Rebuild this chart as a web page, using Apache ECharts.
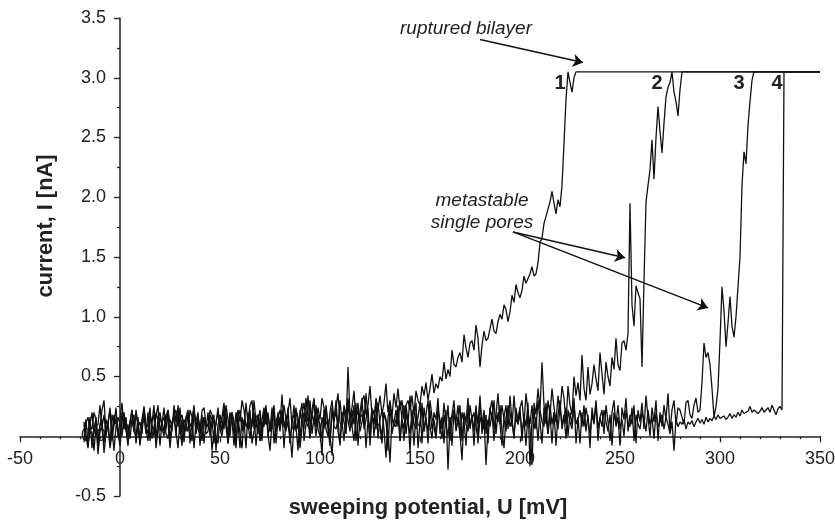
<!DOCTYPE html>
<html>
<head>
<meta charset="utf-8">
<script src="https://cdn.jsdelivr.net/npm/echarts@6/dist/echarts.min.js"></script>
<style>
html,body{margin:0;padding:0;background:#fff;}
#chart{width:835px;height:521px;}
</style>
</head>
<body>
<div id="chart"></div>
<script>
// ---- data (sweeping potential in mV, current in nA) ----
// every trace is sampled each 1 mV starting at -18 mV
const sweepStartMV = -18;
const sweepStepMV = 1;
const sweepEndMV = 350;
const ruptureCurrent = 3.05;

const xTickMin = -50, xTickMax = 350, xTickStep = 50;
const yTickMin = -0.5, yTickMax = 3.5, yTickStep = 0.5;

const trace1 = [
 0.05,0.14,-0.08,0.10,0.20,0.02,0.16,-0.12,0.08,0.22,0.30,0.04,0.12,-0.06,0.18,0.09,0.24,0.00,0.14,0.28,
 0.06,0.16,-0.04,0.12,0.22,0.05,0.18,0.10,-0.06,0.14,0.25,0.08,0.02,0.18,0.11,0.26,-0.02,0.15,0.20,0.07,
 0.00,0.17,0.22,0.10,0.04,0.26,0.12,0.19,0.02,0.14,-0.05,0.16,0.22,0.08,0.12,0.24,0.03,0.18,0.05,0.21,
 0.24,0.10,0.08,0.18,0.14,-0.06,0.12,0.20,0.06,0.16,0.28,0.09,0.04,0.20,0.14,-0.08,0.10,0.22,0.12,0.30,
 0.22,0.08,0.12,0.26,0.30,0.06,0.16,0.18,-0.04,0.14,0.24,0.10,0.20,0.04,0.18,0.26,0.02,0.16,0.22,0.10,
 0.26,0.14,0.20,0.32,0.08,0.05,0.22,0.16,-0.02,0.18,0.28,0.12,0.34,0.10,0.16,0.30,0.08,0.24,0.14,0.32,
 0.24,0.06,0.00,0.20,0.30,0.14,0.24,0.36,0.12,0.06,0.26,0.18,0.32,0.16,0.24,0.38,0.14,0.28,0.10,0.30,
 0.34,0.18,0.26,0.42,0.16,0.12,0.32,0.22,0.34,0.18,0.28,0.44,0.20,0.30,0.16,0.36,0.24,0.40,0.22,0.30,
 0.14,0.26,0.30,0.22,0.34,0.18,0.38,0.30,0.26,0.42,0.34,0.45,0.30,0.40,0.52,0.36,0.44,0.40,0.50,0.46,
 0.62,0.48,0.56,0.50,0.72,0.60,0.58,0.66,0.70,0.62,0.85,0.74,0.66,0.78,0.80,0.72,0.93,0.82,0.58,0.76,
 0.88,0.80,0.82,0.90,0.98,0.88,0.86,0.96,1.02,0.98,1.10,1.06,0.96,1.04,1.18,1.12,1.27,1.20,1.16,1.22,
 1.34,1.28,1.28,1.36,1.42,1.34,1.36,1.45,1.62,1.66,1.78,1.84,1.90,1.96,2.05,1.95,1.86,1.98,1.92,2.10,
 2.45,2.82,3.05,2.96,2.88,3.00,3.05
];

const trace2 = [
 0.10,-0.04,0.02,0.16,-0.10,0.06,0.14,-0.15,0.04,0.08,0.18,0.00,0.12,0.22,-0.04,0.10,0.12,0.02,-0.08,0.16,
 0.20,0.04,0.10,-0.02,0.14,0.18,-0.06,0.08,0.12,0.02,0.24,0.06,-0.04,0.16,0.10,0.00,0.20,0.14,-0.08,0.12,
 0.16,0.06,0.22,-0.02,0.10,0.18,0.04,-0.10,0.14,0.18,0.08,0.04,0.20,-0.06,0.12,0.26,0.02,0.14,0.08,-0.04,
 0.16,0.06,0.20,0.00,0.12,0.18,-0.12,0.10,0.14,0.04,0.24,0.08,-0.06,0.18,0.12,0.02,0.20,0.10,-0.10,0.16,
 0.06,0.28,0.10,-0.02,0.14,0.20,-0.08,0.12,0.22,0.04,0.16,0.26,0.00,0.12,0.06,0.24,-0.06,0.14,0.04,0.20,
 -0.10,0.16,0.08,0.02,-0.18,0.12,0.24,0.06,0.18,0.28,-0.04,0.10,0.16,0.02,0.22,0.32,0.08,0.14,0.10,-0.02,
 0.18,0.24,0.06,-0.08,0.20,0.12,0.30,0.04,-0.06,0.16,0.22,0.10,0.58,0.18,0.08,0.26,-0.04,0.12,0.20,0.32,
 0.06,0.14,0.24,-0.08,0.18,0.10,0.30,-0.02,0.14,0.22,0.06,-0.18,0.16,0.26,0.02,0.12,0.22,0.08,0.30,0.14,
 -0.04,0.20,0.10,0.34,0.06,0.16,0.28,-0.10,0.12,0.24,0.04,0.18,0.30,0.08,-0.02,0.20,0.14,0.32,0.02,0.16,
 -0.06,0.22,-0.28,0.10,0.18,0.30,0.04,0.14,0.26,-0.04,0.20,0.12,0.32,0.06,0.18,-0.08,0.24,0.10,0.34,0.02,
 0.16,-0.24,0.08,0.22,0.30,0.06,0.18,0.36,0.10,0.26,0.14,0.04,0.26,0.20,0.08,0.34,0.12,0.15,0.24,0.30,
 0.10,0.36,0.20,0.06,-0.24,0.28,0.18,0.40,0.22,0.62,0.26,0.10,0.30,0.18,0.40,0.24,0.12,0.34,0.20,0.42,
 0.32,0.10,0.42,0.26,0.18,0.50,0.34,0.45,0.30,0.68,0.40,0.30,0.58,0.35,0.44,0.60,0.48,0.38,0.70,0.52,
 0.35,0.62,0.50,0.42,0.66,0.56,0.82,0.60,0.55,0.78,0.80,0.72,0.86,1.95,1.10,0.92,1.26,1.20,1.15,0.58,
 1.30,1.96,2.10,2.23,2.48,2.15,2.50,2.76,2.55,2.37,2.62,2.84,2.92,2.96,3.05,2.88,2.80,2.68,2.90,3.05,
 3.05
];

const trace3 = [
 -0.05,0.12,0.16,0.02,0.04,-0.12,0.08,0.10,0.26,0.06,-0.06,0.14,0.08,-0.10,0.02,0.18,0.12,0.06,-0.02,0.20,
 0.06,0.14,-0.06,0.10,0.22,0.04,0.00,0.16,-0.08,0.12,0.20,0.06,0.10,0.24,-0.02,0.08,0.16,0.26,0.04,0.12,
 0.04,0.18,0.12,-0.10,0.08,0.18,0.22,0.08,0.24,0.00,0.02,0.16,0.14,0.06,-0.04,0.20,0.12,0.20,-0.08,0.10,
 0.16,0.02,0.04,0.22,0.18,0.10,0.00,-0.06,0.18,0.12,0.06,0.26,0.14,0.00,0.20,0.08,-0.10,0.16,0.22,0.04,
 0.14,-0.10,0.20,0.06,0.08,0.30,0.12,0.02,0.16,-0.04,0.22,0.10,0.18,0.04,0.24,-0.06,0.12,0.18,0.08,0.22,
 0.10,0.04,0.24,-0.06,0.14,0.18,0.08,-0.12,0.22,0.12,0.06,0.32,0.16,-0.02,0.20,0.10,0.26,0.06,0.00,0.16,
 0.06,0.26,0.10,0.00,-0.16,0.14,0.20,0.08,0.30,0.12,-0.04,0.18,0.14,0.04,0.22,0.10,0.28,-0.08,0.16,0.18,
 0.10,0.36,0.14,-0.02,0.16,0.22,0.06,0.28,0.10,0.00,0.20,0.14,-0.12,0.24,0.16,0.08,0.14,0.26,-0.04,0.18,
 0.26,0.02,0.18,-0.14,0.22,0.10,0.06,0.16,0.28,-0.06,0.24,0.12,0.04,0.30,0.16,0.08,-0.02,0.20,0.14,0.06,
 0.28,0.10,0.00,0.16,-0.08,0.22,0.12,0.26,0.02,-0.20,0.18,0.10,0.04,0.26,0.14,0.20,0.08,-0.02,0.28,0.12,
 0.06,0.18,-0.06,0.24,0.14,0.30,0.02,0.20,0.10,-0.08,0.16,0.26,0.06,0.34,0.12,0.00,0.22,0.10,0.24,-0.04,
 0.18,0.08,0.28,-0.25,0.14,0.22,0.06,0.30,0.12,-0.06,0.24,0.16,0.02,0.26,0.10,0.20,-0.08,0.18,0.30,0.06,
 0.16,0.24,0.00,0.20,0.10,0.32,-0.06,0.14,0.22,0.08,0.26,0.04,0.18,-0.10,0.24,0.12,0.30,0.06,0.16,0.22,
 0.02,0.26,0.12,-0.04,0.20,0.30,0.08,0.16,-0.08,0.24,0.14,0.32,0.04,0.18,0.10,0.26,-0.06,0.22,0.12,0.28,
 0.06,0.34,0.16,0.00,0.24,0.12,0.30,-0.04,0.20,0.08,0.26,0.14,0.36,0.04,0.22,0.30,0.10,0.24,0.22,0.16,
 0.10,0.28,0.30,0.18,0.15,0.26,0.32,0.20,0.22,0.45,0.78,0.66,0.70,0.60,0.40,0.16,0.25,0.40,0.80,1.25,
 1.05,0.75,0.95,1.17,0.92,0.83,1.00,1.00,1.50,2.10,2.38,2.28,2.60,2.80,2.98,3.05,3.05
];

const trace4 = [
 0.12,0.00,-0.10,0.08,0.06,0.20,0.14,-0.04,0.10,0.14,-0.14,0.02,0.10,0.24,0.06,-0.12,0.08,0.16,0.10,0.00,
 0.18,0.06,-0.08,0.12,0.14,0.04,0.22,0.10,-0.06,0.08,0.16,0.02,0.20,-0.04,0.12,0.18,-0.10,0.06,0.16,0.10,
 0.24,0.02,-0.02,0.14,0.10,0.18,0.00,0.26,0.08,-0.08,0.14,0.10,0.04,0.22,0.16,-0.10,0.12,0.06,0.02,0.18,
 -0.06,0.12,0.08,0.16,-0.12,0.04,0.10,0.24,0.06,0.00,0.14,0.20,-0.06,0.08,0.20,0.12,-0.04,0.16,0.02,-0.10,
 0.14,0.10,0.06,0.22,-0.06,0.04,0.10,0.18,-0.04,0.12,0.08,0.24,0.02,-0.12,0.12,0.16,0.04,0.20,0.10,0.35,
 0.08,0.14,0.18,-0.06,0.10,0.26,0.04,0.14,-0.10,0.08,0.20,0.12,0.08,0.30,0.02,0.16,0.00,0.18,0.06,-0.16,
 0.22,0.10,0.14,-0.02,0.24,0.08,0.06,0.14,-0.08,0.20,0.12,0.02,0.28,0.10,0.08,-0.04,0.16,0.22,0.04,0.12,
 0.22,-0.10,0.14,0.06,0.24,0.00,0.18,0.10,0.08,-0.06,0.20,0.12,0.04,-0.22,0.16,0.10,0.08,0.22,-0.04,0.14,
 0.06,0.26,0.12,0.02,0.18,-0.08,0.20,0.10,0.08,0.28,0.04,0.16,-0.06,0.22,0.06,0.14,0.02,0.24,0.10,-0.02,
 0.18,0.08,0.26,-0.04,0.14,0.22,0.06,0.16,0.00,0.20,0.12,-0.08,0.24,0.08,0.18,0.04,0.26,-0.06,0.16,0.10,
 0.22,0.02,0.14,0.08,0.20,-0.04,0.18,0.12,0.26,0.04,-0.10,0.16,0.22,0.08,0.14,-0.02,0.24,0.10,0.18,0.04,
 0.14,-0.08,0.20,0.10,0.26,0.06,0.16,-0.04,0.22,0.12,0.08,0.28,0.02,0.18,-0.06,0.20,0.14,0.06,0.24,0.10,
 0.18,-0.02,0.22,0.12,0.06,0.26,0.10,0.16,-0.06,0.20,0.08,0.24,0.14,0.02,0.18,0.10,0.28,-0.04,0.16,0.08,
 0.22,0.12,0.04,0.18,-0.08,0.20,0.10,0.26,0.06,0.14,0.00,0.22,0.12,0.08,0.24,-0.04,0.18,0.10,0.06,0.20,
 0.14,0.04,0.22,0.10,0.16,-0.02,0.20,0.08,0.12,0.18,0.06,0.16,0.10,0.02,0.12,-0.12,0.14,0.08,0.12,0.10,
 0.14,0.06,0.12,0.10,0.13,0.08,0.12,0.15,0.11,0.14,0.10,0.16,0.12,0.15,0.13,0.17,0.14,0.18,0.15,0.16,
 0.17,0.14,0.16,0.19,0.15,0.18,0.16,0.20,0.17,0.22,0.19,0.18,0.21,0.25,0.20,0.22,0.23,0.19,0.21,0.24,
 0.20,0.22,0.24,0.20,0.26,0.22,0.18,0.23,0.25,0.22,3.05
];

const traceNames = ['1', '2', '3', '4'];
const traces = [trace1, trace2, trace3, trace4];

// annotation anchors in data units [mV, nA]
const rupturedArrow = [[180, 3.32], [231.5, 3.127]];
const poreArrows = [
  [[196.5, 1.71], [252.5, 1.493]],
  [[196.5, 1.71], [294, 1.074]]
];
const annotationTexts = [
  {text: 'ruptured bilayer', at: [173, 3.41]},
  {text: 'metastable', at: [181, 1.97]},
  {text: 'single pores', at: [181, 1.786]}
];
const traceLabelPos = [[220, 2.95], [268.5, 2.95], [309.5, 2.95], [328.5, 2.95]];

// ---- chart ----
const FONT = "'Liberation Sans', Arial, Helvetica, sans-serif";
const chart = echarts.init(document.getElementById('chart'), null, {renderer: 'canvas'});
const GRID = {left: 20, right: 15, top: 18, bottom: 25};

function toSeriesData(vals) {
  const d = vals.map((v, i) => [sweepStartMV + i * sweepStepMV, v]);
  d.push([sweepEndMV, ruptureCurrent]);
  return d;
}

const series = traces.map((t, k) => ({
  name: traceNames[k],
  type: 'line',
  data: toSeriesData(t),
  showSymbol: false,
  symbol: 'none',
  lineStyle: {color: '#111', width: 1.3},
  z: 3,
  silent: true
}));

series[0].markLine = {
  silent: true,
  symbol: ['none', 'arrow'],
  symbolSize: 10,
  label: {show: false},
  lineStyle: {color: '#111', width: 1.5, type: 'solid'},
  emphasis: {disabled: true},
  data: [
    [{coord: rupturedArrow[0]}, {coord: rupturedArrow[1]}],
    [{coord: poreArrows[0][0]}, {coord: poreArrows[0][1]}],
    [{coord: poreArrows[1][0]}, {coord: poreArrows[1][1]}]
  ]
};

const axisCommon = {
  type: 'value',
  splitLine: {show: false},
  axisLine: {show: true, onZero: false, lineStyle: {color: '#222', width: 1.5}},
  axisTick: {show: true, inside: false, length: 6, lineStyle: {color: '#222', width: 1.3}},
  minorTick: {show: true, length: 3, lineStyle: {color: '#222', width: 1.2}},
  minorSplitLine: {show: false}
};

const option = {
  animation: false,
  backgroundColor: '#fff',
  grid: Object.assign({containLabel: false, outerBoundsMode: 'none'}, GRID),
  xAxis: Object.assign({}, axisCommon, {
    position: 'bottom', offset: 0,
    min: xTickMin, max: xTickMax, interval: xTickStep,
    minorTick: Object.assign({}, axisCommon.minorTick, {splitNumber: 5}),
    axisLabel: {fontSize: 18, color: '#222', fontFamily: FONT, margin: 14}
  }),
  yAxis: Object.assign({}, axisCommon, {
    position: 'left', offset: 0,
    min: yTickMin, max: yTickMax, interval: yTickStep,
    minorTick: Object.assign({}, axisCommon.minorTick, {splitNumber: 2}),
    axisLabel: {fontSize: 18, color: '#222', fontFamily: FONT, margin: 14,
      formatter: v => v.toFixed(1)}
  }),
  series: series
};
chart.setOption(option);

// move both axes so they cross at the origin (0 mV, 0 nA)
const origin = chart.convertToPixel({gridIndex: 0}, [0, 0]);
const gridBottomPx = 521 - GRID.bottom;
const gridLeftPx = GRID.left;
chart.setOption({
  xAxis: {offset: -(gridBottomPx - origin[1])},
  yAxis: {offset: -(origin[0] - gridLeftPx)}
});

const graphics = [];
annotationTexts.forEach(a => {
  const p = chart.convertToPixel({gridIndex: 0}, a.at);
  graphics.push({type: 'text', x: p[0], y: p[1], z: 10, style: {
    text: a.text, fontSize: 19, fontStyle: 'italic', fontFamily: FONT, fill: '#222',
    align: 'center', verticalAlign: 'middle'}});
});
traceLabelPos.forEach((pos, k) => {
  const p = chart.convertToPixel({gridIndex: 0}, pos);
  graphics.push({type: 'text', x: p[0], y: p[1], z: 10, style: {
    text: traceNames[k], fontSize: 20, fontWeight: 'bold', fontFamily: FONT, fill: '#222',
    align: 'center', verticalAlign: 'middle'}});
});
graphics.push({type: 'text', x: 428, y: 508, z: 10, style: {
  text: 'sweeping potential, U [mV]', fontSize: 21.8, fontWeight: 'bold', fontFamily: FONT, fill: '#222',
  align: 'center', verticalAlign: 'middle'}});
graphics.push({type: 'text', x: 46, y: 226, rotation: Math.PI / 2, z: 10, style: {
  text: 'current, I [nA]', fontSize: 21.8, fontWeight: 'bold', fontFamily: FONT, fill: '#222',
  align: 'center', verticalAlign: 'middle'}});
chart.setOption({graphic: graphics});
</script>
</body>
</html>
